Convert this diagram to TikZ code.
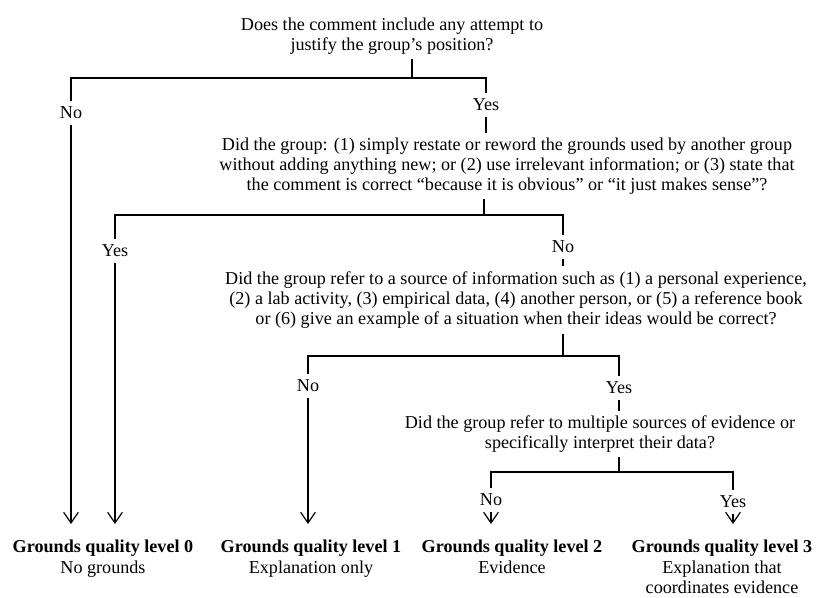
\documentclass[tikz,border=0pt]{standalone}
\usepackage{fontspec}
\setmainfont{Liberation Serif}
\usetikzlibrary{arrows.meta}
\begin{document}
\begin{tikzpicture}[x=0.75pt,y=-0.75pt,
  every node/.style={font=\fontsize{13.6}{15.2}\selectfont},
  qbox/.style={align=center, inner xsep=2pt, inner ysep=3.5pt},
  lab/.style={inner xsep=1pt, inner ysep=4.5pt},
  lvl/.style={align=center, anchor=north, inner sep=0pt},
  conn/.style={line width=0.8pt},
  arr/.style={line width=0.9pt, shorten >=12pt, -{Straight Barb[length=8pt,width=11pt,line width=0.9pt]}},
]
\useasboundingbox (0,0) rectangle (816,597);

% question 1
\node[qbox] (q1) at (392,36) {Does the comment include any attempt to\\justify the group's position?};
\node[lab] (no1) at (71,113) {No};
\node[lab] (yes1) at (486,105) {Yes};
\coordinate (j1) at (412,78);
\draw[conn] (q1.south -| j1) -- (j1);
\draw[conn] (no1.north) |- (j1) -| (yes1.north);

% question 2
\node[qbox] (q2) at (507,166) {Did the group: (1) simply restate or reword the grounds used by another group\\without adding anything new; or (2) use irrelevant information; or (3) state that\\the comment is correct ``because it is obvious'' or ``it just makes sense''?};
\draw[conn] (yes1.south) -- (yes1.south |- q2.north);
\coordinate (j2) at (484,215);
\node[lab] (yes2) at (115,251) {Yes};
\node[lab] (no2) at (563,247) {No};
\draw[conn] (q2.south -| j2) -- (j2);
\draw[conn] (yes2.north) |- (j2) -| (no2.north);

% question 3
\node[qbox] (q3) at (516,300) {Did the group refer to a source of information such as (1) a personal experience,\\(2) a lab activity, (3) empirical data, (4) another person, or (5) a reference book\\or (6) give an example of a situation when their ideas would be correct?};
\draw[conn] (no2.south) -- (no2.south |- q3.north);
\coordinate (j3) at (563,356);
\node[lab] (no3) at (308,386) {No};
\node[lab] (yes3) at (619,388) {Yes};
\draw[conn] (q3.south -| j3) -- (j3);
\draw[conn] (no3.north) |- (j3) -| (yes3.north);

% question 4
\node[qbox] (q4) at (600,434) {Did the group refer to multiple sources of evidence or\\specifically interpret their data?};
\draw[conn] (yes3.south) -- (yes3.south |- q4.north);
\coordinate (j4) at (619,472);
\node[lab] (no4) at (491,500) {No};
\node[lab] (yes4) at (733,502) {Yes};
\draw[conn] (q4.south -| j4) -- (j4);
\draw[conn] (no4.north) |- (j4) -| (yes4.north);

% outcomes
\node[lvl] (l0) at (103,540) {\textbf{Grounds quality level 0}\\No grounds};
\node[lvl] (l1) at (311,540) {\textbf{Grounds quality level 1}\\Explanation only};
\node[lvl] (l2) at (512,540) {\textbf{Grounds quality level 2}\\Evidence};
\node[lvl] (l3) at (722,540) {\textbf{Grounds quality level 3}\\Explanation that\\coordinates evidence};

\draw[arr] (no1.south) -- (no1.south |- l0.north);
\draw[arr] (yes2.south) -- (yes2.south |- l0.north);
\draw[arr] (no3.south) -- (no3.south |- l1.north);
\draw[arr] (no4.south) -- (no4.south |- l2.north);
\draw[arr] (yes4.south) -- (yes4.south |- l3.north);
\end{tikzpicture}
\end{document}
